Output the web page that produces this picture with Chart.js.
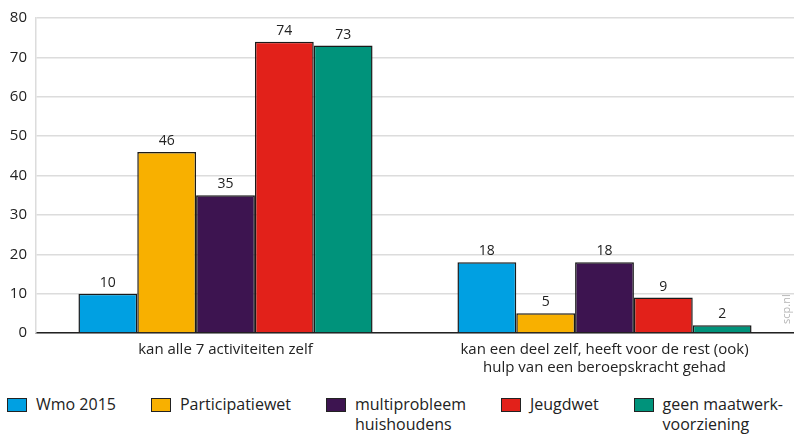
<!DOCTYPE html>
<html>
<head>
<meta charset="utf-8">
<script src="https://cdn.jsdelivr.net/npm/chart.js@4"></script>
<style>
  body { margin: 0; background: #fff; font-family: "Open Sans", sans-serif; }
  #wrap { position: relative; width: 794px; height: 435px; }
  #box { position: absolute; left: 0; top: 0; width: 794px; height: 385px; }
  #legend { position: absolute; left: 7px; top: 394px; display: flex; gap: 35px; font-size: 16px; color: #222; line-height: 20px; }
  .item { display: flex; align-items: flex-start; }
  .sw { width: 18px; height: 12px; border: 1px solid #222; margin-right: 9px; margin-top: 4px; flex: none; }
</style>
</head>
<body>
<div id="wrap">
  <div id="box"><canvas id="chart"></canvas></div>
  <div id="legend"></div>
</div>
<script>
const categories = [['kan alle 7 activiteiten zelf'], ['kan een deel zelf, heeft voor de rest (ook)', 'hulp van een beroepskracht gehad']]
const seriesNames = ['Wmo 2015', 'Participatiewet', 'multiprobleem\nhuishoudens', 'Jeugdwet', 'geen maatwerk-\nvoorziening']
const seriesColors = ['#00a0e2', '#f8b000', '#3d1450', '#e2211a', '#00937b']
const wmo = [10, 18]
const participatie = [46, 5]
const multiprobleem = [35, 18]
const jeugdwet = [74, 9]
const geenMaatwerk = [73, 2]
const yTicks = [0, 10, 20, 30, 40, 50, 60, 70, 80]

const allValues = [wmo, participatie, multiprobleem, jeugdwet, geenMaatwerk]
const FONT = '"Open Sans", sans-serif'

const valueLabels = {
  id: 'valueLabels',
  afterDatasetsDraw(chart) {
    const ctx = chart.ctx
    ctx.save()
    ctx.font = '14px ' + FONT
    ctx.fillStyle = '#222'
    ctx.textAlign = 'center'
    ctx.textBaseline = 'bottom'
    chart.data.datasets.forEach((ds, i) => {
      chart.getDatasetMeta(i).data.forEach((bar, j) => {
        ctx.fillText(ds.data[j], bar.x, bar.y - 4)
      })
    })
    // scp.nl watermark
    ctx.translate(787, 324)
    ctx.rotate(-Math.PI / 2)
    ctx.font = '11px ' + FONT
    ctx.fillStyle = '#b5b5b5'
    ctx.textAlign = 'left'
    ctx.textBaseline = 'middle'
    ctx.fillText('scp.nl', 0, 0)
    ctx.restore()
  }
}

new Chart(document.getElementById('chart'), {
  type: 'bar',
  data: {
    labels: categories,
    datasets: allValues.map((vals, i) => ({
      label: seriesNames[i],
      data: vals,
      backgroundColor: seriesColors[i],
      borderColor: '#1a1a1a',
      borderWidth: 1.5,
      borderSkipped: 'bottom',
      barPercentage: 1,
      categoryPercentage: 0.776
    }))
  },
  options: {
    responsive: true,
    maintainAspectRatio: false,
    animation: false,
    layout: { padding: { top: 18, right: 0, left: 0, bottom: 0 } },
    plugins: { legend: { display: false }, tooltip: { enabled: false } },
    scales: {
      x: {
        grid: { display: false, drawTicks: false },
        border: { color: '#222', width: 1.5 },
        ticks: { color: '#222', font: { family: 'Open Sans', size: 15, lineHeight: 1.2 }, padding: 8, maxRotation: 0 },
        afterFit: s => { s.height = 52 }
      },
      y: {
        min: 0, max: 80,
        afterBuildTicks: s => { s.ticks = yTicks.map(v => ({ value: v })) },
        grid: { color: '#dcdcdc', drawTicks: false, lineWidth: 1.5 },
        border: { color: '#dcdcdc', width: 1.5 },
        ticks: { color: '#222', font: { family: 'Open Sans', size: 15 }, padding: 9 },
        afterFit: s => { s.width = 36 }
      }
    }
  },
  plugins: [valueLabels]
})

const legend = document.getElementById('legend')
seriesNames.forEach((name, i) => {
  const item = document.createElement('div')
  item.className = 'item'
  item.innerHTML = '<span class="sw" style="background:' + seriesColors[i] + '"></span><span>' + name.replace('\n', '<br>') + '</span>'
  legend.appendChild(item)
})
</script>
</body>
</html>
